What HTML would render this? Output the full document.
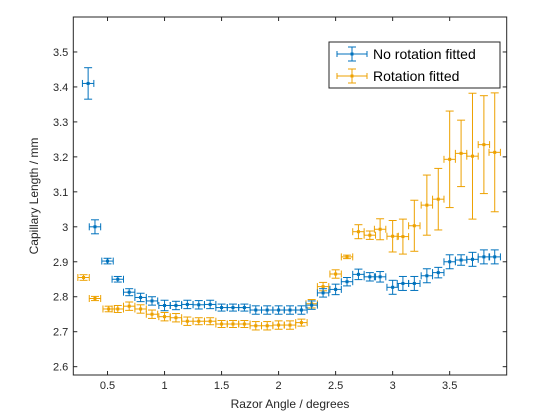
<!DOCTYPE html>
<html><head><meta charset="utf-8"><style>
body{margin:0;background:#fff;}
svg{display:block;font-family:"Liberation Sans",sans-serif;}
</style></head><body>
<svg id="chart" width="560" height="420" viewBox="0 0 560 420">
<rect x="0" y="0" width="560" height="420" fill="#fff"/>
<g id="plot"></g>
</svg>
<script>
const blueX=[0.33,0.39,0.50,0.59,0.69,0.79,0.89,1.0,1.1,1.2,1.3,1.4,1.5,1.6,1.7,1.8,1.9,2.0,2.1,2.2,2.29,2.39,2.50,2.60,2.70,2.80,2.89,3.0,3.09,3.19,3.30,3.40,3.50,3.60,3.70,3.80,3.895];
const blueY=[3.41,3.00,2.902,2.85,2.813,2.798,2.788,2.775,2.775,2.778,2.777,2.778,2.769,2.769,2.769,2.762,2.762,2.762,2.762,2.762,2.776,2.811,2.821,2.843,2.864,2.857,2.857,2.827,2.838,2.838,2.86,2.869,2.90,2.905,2.907,2.914,2.914];
const blueErr=[0.045,0.02,0.008,0.008,0.01,0.012,0.012,0.015,0.012,0.012,0.012,0.012,0.01,0.01,0.01,0.012,0.012,0.012,0.012,0.012,0.012,0.012,0.015,0.012,0.015,0.012,0.015,0.02,0.02,0.02,0.02,0.015,0.02,0.015,0.02,0.02,0.02];
const orangeX=[0.29,0.39,0.51,0.59,0.69,0.79,0.89,1.0,1.1,1.2,1.3,1.4,1.5,1.6,1.7,1.8,1.9,2.0,2.1,2.2,2.29,2.39,2.50,2.60,2.70,2.80,2.89,3.0,3.09,3.19,3.30,3.40,3.50,3.60,3.70,3.80,3.895];
const orangeY=[2.855,2.795,2.765,2.765,2.773,2.765,2.75,2.743,2.74,2.73,2.73,2.73,2.722,2.722,2.722,2.717,2.717,2.719,2.719,2.726,2.78,2.829,2.865,2.914,2.986,2.976,2.993,2.973,2.972,3.003,3.062,3.079,3.193,3.21,3.202,3.235,3.213];
const orangeErr=[0.008,0.006,0.008,0.01,0.012,0.012,0.012,0.012,0.012,0.012,0.01,0.01,0.01,0.01,0.01,0.012,0.012,0.012,0.012,0.01,0.012,0.012,0.012,0.005,0.02,0.012,0.03,0.045,0.05,0.073,0.086,0.088,0.138,0.095,0.18,0.14,0.17];
const xTicks=[0.5,1,1.5,2,2.5,3,3.5];
const xTickLabels=["0.5","1","1.5","2","2.5","3","3.5"];
const yTicks=[2.6,2.7,2.8,2.9,3,3.1,3.2,3.3,3.4,3.5];
const yTickLabels=["2.6","2.7","2.8","2.9","3","3.1","3.2","3.3","3.4","3.5"];
const xErrHalf=0.05;

const L=73.3,R=506.7,T=17,B=375;
const xMin=0.2,xMax=4,yMin=2.5762,yMax=3.6;
const sx=v=>L+(v-xMin)/(xMax-xMin)*(R-L);
const sy=v=>B-(v-yMin)/(yMax-yMin)*(B-T);
const NS="http://www.w3.org/2000/svg";
const g=document.getElementById('plot');
function mk(tag,attrs,parent){const e=document.createElementNS(NS,tag);for(const k in attrs)e.setAttribute(k,attrs[k]);(parent||g).appendChild(e);return e;}

const bg=mk('rect',{x:L,y:T,width:R-L,height:B-T,fill:'#fff'});



function series(xs,ys,es,color,name){
  const sg=mk('g',{stroke:color,fill:color,'stroke-width':1});
  
  
  for(let i=0;i<xs.length;i++){
    const cx=sx(xs[i]),cy=sy(ys[i]);
    const y1=sy(ys[i]+es[i]),y2=sy(ys[i]-es[i]);
    const x1=sx(xs[i]-xErrHalf),x2=sx(xs[i]+xErrHalf);
    const eg=mk('g',{},sg);
    
    
    mk('line',{x1:cx,y1:y1,x2:cx,y2:y2},eg);
    mk('line',{x1:cx-4,y1:y1,x2:cx+4,y2:y1},eg);
    mk('line',{x1:cx-4,y1:y2,x2:cx+4,y2:y2},eg);
    mk('line',{x1:x1,y1:cy,x2:x2,y2:cy},eg);
    mk('line',{x1:x1,y1:cy-3.5,x2:x1,y2:cy+3.5},eg);
    mk('line',{x1:x2,y1:cy-3.5,x2:x2,y2:cy+3.5},eg);
    mk('rect',{x:cx-1.5,y:cy-1.5,width:3,height:3,stroke:'none'},eg);
  }
}
series(orangeX,orangeY,orangeErr,'#EDA100','series-rotation-fitted');
series(blueX,blueY,blueErr,'#0072BD','series-no-rotation-fitted');

const ax=mk('g',{stroke:'#262626','stroke-width':1,fill:'none'});


mk('rect',{x:L,y:T,width:R-L,height:B-T},ax);
xTicks.forEach((v,i)=>{
  const x=sx(v);
  mk('line',{x1:x,y1:B,x2:x,y2:B-4},ax);mk('line',{x1:x,y1:T,x2:x,y2:T+4},ax);
  const t=mk('text',{x:x,y:B+14,'text-anchor':'middle','font-size':11,fill:'#262626'});
  t.textContent=xTickLabels[i];
  
  
});
yTicks.forEach((v,i)=>{
  const y=sy(v);
  mk('line',{x1:L,y1:y,x2:L+4,y2:y},ax);mk('line',{x1:R,y1:y,x2:R-4,y2:y},ax);
  const t=mk('text',{x:L-5,y:y+4,'text-anchor':'end','font-size':11,fill:'#262626'});
  t.textContent=yTickLabels[i];
  
  
});
const xt=mk('text',{x:(L+R)/2,y:B+33,'text-anchor':'middle','font-size':12,fill:'#262626'});
xt.textContent='Razor Angle / degrees';


const yt=mk('text',{x:0,y:0,'text-anchor':'middle','font-size':12,fill:'#262626',transform:`translate(38,${(T+B)/2}) rotate(-90)`});
yt.textContent='Capillary Length / mm';



const lg=mk('g',{});


mk('rect',{x:329,y:42,width:171,height:46,fill:'#fff',stroke:'#262626','stroke-width':1},lg);
[['No rotation fitted','#0072BD',54],['Rotation fitted','#EDA100',76]].forEach(([lab,c,y])=>{
  const e=mk('g',{stroke:c,'stroke-width':1,fill:c},lg);
  
  
  mk('line',{x1:337,y1:y,x2:367,y2:y},e);
  mk('line',{x1:337,y1:y-3,x2:337,y2:y+3},e);mk('line',{x1:367,y1:y-3,x2:367,y2:y+3},e);
  mk('line',{x1:352,y1:y-7,x2:352,y2:y+7},e);
  mk('line',{x1:348,y1:y-7,x2:356,y2:y-7},e);mk('line',{x1:348,y1:y+7,x2:356,y2:y+7},e);
  mk('rect',{x:350.5,y:y-1.5,width:3,height:3,stroke:'none'},e);
  const t=mk('text',{x:373,y:y+5,'font-size':14,fill:'#000',stroke:'none'},e);
  t.textContent=lab;
});
</script>
</body></html>
